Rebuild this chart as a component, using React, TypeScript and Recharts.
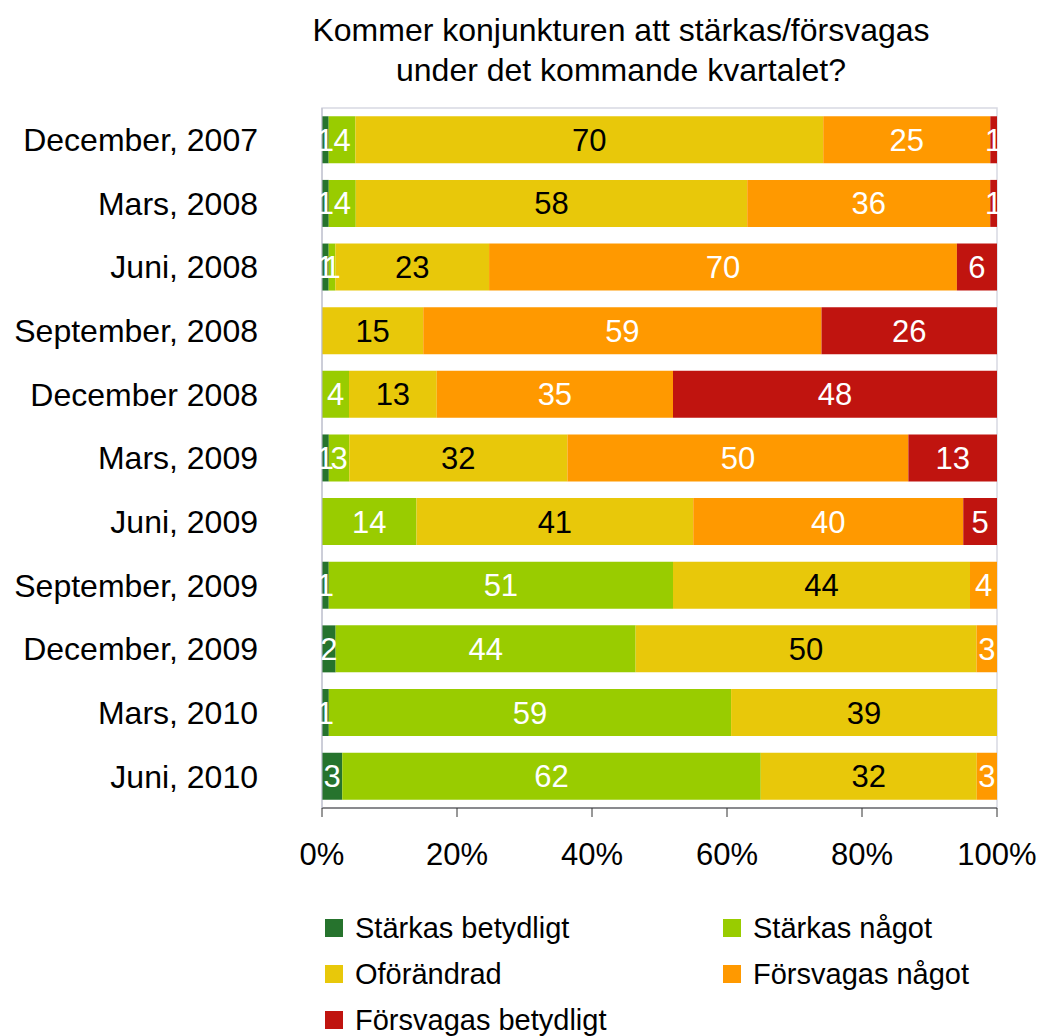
import {
  BarChart,
  Bar,
  XAxis,
  YAxis,
  LabelList,
  ReferenceArea,
} from "recharts";

const periods = [
  "December, 2007",
  "Mars, 2008",
  "Juni, 2008",
  "September, 2008",
  "December 2008",
  "Mars, 2009",
  "Juni, 2009",
  "September, 2009",
  "December, 2009",
  "Mars, 2010",
  "Juni, 2010",
];

const starkasBetydligt = [1, 1, 1, 0, 0, 1, 0, 1, 2, 1, 3];
const starkasNagot = [4, 4, 1, 0, 4, 3, 14, 51, 44, 59, 62];
const oforandrad = [70, 58, 23, 15, 13, 32, 41, 44, 50, 39, 32];
const forsvagasNagot = [25, 36, 70, 59, 35, 50, 40, 4, 3, 0, 3];
const forsvagasBetydligt = [1, 1, 6, 26, 48, 13, 5, 0, 0, 0, 0];

const xTicks = [0, 0.2, 0.4, 0.6, 0.8, 1];

const series = [
  { key: "sb", name: "Stärkas betydligt", color: "#26732d", text: "#ffffff" },
  { key: "sn", name: "Stärkas något", color: "#99cc00", text: "#ffffff" },
  { key: "of", name: "Oförändrad", color: "#e8c80a", text: "#000000" },
  { key: "fn", name: "Försvagas något", color: "#ff9900", text: "#ffffff" },
  { key: "fb", name: "Försvagas betydligt", color: "#c0140f", text: "#ffffff" },
];

const data = periods.map((p, i) => ({
  period: p,
  sb: starkasBetydligt[i],
  sn: starkasNagot[i],
  of: oforandrad[i],
  fn: forsvagasNagot[i],
  fb: forsvagasBetydligt[i],
}));

const font = "'Liberation Sans', Arial, sans-serif";

export default function App() {
  return (
    <div
      style={{
        position: "absolute",
        left: 0,
        top: 0,
        width: 1041,
        height: 1036,
        background: "#fff",
        fontFamily: font,
      }}
    >
      <div
        style={{
          position: "absolute",
          left: 221,
          width: 800,
          top: 10,
          textAlign: "center",
          fontSize: 32,
          lineHeight: "40px",
          color: "#000",
        }}
      >
        Kommer konjunkturen att stärkas/försvagas
        <br />
        under det kommande kvartalet?
      </div>
      <BarChart
        width={1041}
        height={1036}
        data={data}
        layout="vertical"
        stackOffset="expand"
        barCategoryGap="13%"
        margin={{ top: 108, right: 44, left: 0, bottom: 148 }}
      >
        <ReferenceArea x1={0} x2={1} fill="none" stroke="#d8d9e2" strokeWidth={1.5} />
        <XAxis
          type="number"
          domain={[0, 1]}
          ticks={xTicks}
          tickFormatter={(v: number) => `${Math.round(v * 100)}%`}
          stroke="#333"
          tickSize={9}
          tickMargin={26}
          height={80}
          tick={{ fill: "#000", fontFamily: font, fontSize: 31 }}
        />
        <YAxis
          type="category"
          dataKey="period"
          width={322}
          tickSize={0}
          tickMargin={64}
          axisLine={{ stroke: "#b8bac8" }}
          tick={{ fill: "#000", fontFamily: font, fontSize: 32 }}
        />
        {series.map((s) => (
          <Bar
            key={s.key}
            dataKey={s.key}
            name={s.name}
            stackId="a"
            fill={s.color}
            isAnimationActive={false}
          >
            <LabelList
              dataKey={s.key}
              position="center"
              fill={s.text}
              fontSize={31}
              fontFamily={font}
              formatter={(v: number) => (v ? v : "")}
            />
          </Bar>
        ))}
      </BarChart>
      {series.map((s, i) => (
        <div
          key={s.key}
          style={{
            position: "absolute",
            left: i % 2 === 0 ? 325 : 723,
            top: 928 + Math.floor(i / 2) * 46 - 20,
            height: 40,
            display: "flex",
            alignItems: "center",
            fontSize: 29,
            color: "#000",
            whiteSpace: "nowrap",
          }}
        >
          <span
            style={{
              display: "inline-block",
              width: 18,
              height: 18,
              background: s.color,
              marginRight: 12,
            }}
          />
          {s.name}
        </div>
      ))}
    </div>
  );
}
